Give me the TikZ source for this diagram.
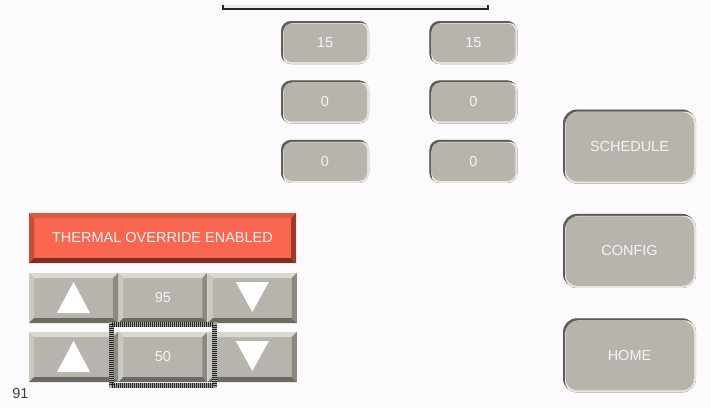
\documentclass[tikz,border=0pt]{standalone}
\usepackage{fontspec}
\setmainfont{Liberation Sans}
\usetikzlibrary{positioning}

\definecolor{panelbg}{RGB}{253,250,253}
\definecolor{btnface}{RGB}{183,180,174}
\definecolor{btntop}{RGB}{217,217,207}
\definecolor{btnleft}{RGB}{201,201,191}
\definecolor{btnbottom}{RGB}{107,106,99}
\definecolor{btnright}{RGB}{138,137,130}
\definecolor{redface}{RGB}{251,102,81}
\definecolor{redtop}{RGB}{220,90,66}
\definecolor{redleft}{RGB}{194,78,58}
\definecolor{redbottom}{RGB}{124,47,32}
\definecolor{redright}{RGB}{156,58,40}
\definecolor{rnddark}{RGB}{94,94,88}
\definecolor{rndlight}{RGB}{230,230,220}
\definecolor{btntext}{RGB}{244,244,244}
\definecolor{labeltext}{RGB}{64,64,64}

\begin{document}
\begin{tikzpicture}[
        x=1pt, y=-1pt,
        font=\fontsize{14.5}{17}\selectfont,
        bevel/.style n args={4}{path picture={
            \path (path picture bounding box.north west) coordinate (bnw)
                  (path picture bounding box.north east) coordinate (bne)
                  (path picture bounding box.south west) coordinate (bsw)
                  (path picture bounding box.south east) coordinate (bse);
            \fill[#1] (bnw) -- (bne) -- ([xshift=-5pt,yshift=-5pt]bne) -- ([xshift=5pt,yshift=-5pt]bnw) -- cycle;
            \fill[#2] (bnw) -- (bsw) -- ([xshift=5pt,yshift=5pt]bsw) -- ([xshift=5pt,yshift=-5pt]bnw) -- cycle;
            \fill[#3] (bsw) -- (bse) -- ([xshift=-5pt,yshift=5pt]bse) -- ([xshift=5pt,yshift=5pt]bsw) -- cycle;
            \fill[#4] (bne) -- (bse) -- ([xshift=-5pt,yshift=5pt]bse) -- ([xshift=-5pt,yshift=-5pt]bne) -- cycle;
        }},
        graybtn/.style={rectangle, fill=btnface, inner sep=0pt, minimum width=89pt, minimum height=50pt,
            text=btntext, bevel={btntop}{btnleft}{btnbottom}{btnright}},
        redbtn/.style={rectangle, fill=redface, inner sep=0pt, minimum width=267pt, minimum height=50pt,
            text=btntext, bevel={redtop}{redleft}{redbottom}{redright}},
        rndbtn/.style n args={2}{rectangle, rounded corners=#1, fill=btnface, inner sep=0pt, text=btntext,
            path picture={
            \fill[rnddark] (path picture bounding box.north west) rectangle (path picture bounding box.south east);
            \fill[rndlight, rounded corners=#1] ([xshift=2pt,yshift=-2pt]path picture bounding box.north west)
                rectangle ([xshift=2pt,yshift=-2pt]path picture bounding box.south east);
            \fill[btnface, rounded corners=#2] ([xshift=2.5pt,yshift=-2.5pt]path picture bounding box.north west)
                rectangle ([xshift=-2pt,yshift=2pt]path picture bounding box.south east);
        }},
        smallbtn/.style={rndbtn={10pt}{8pt}, minimum width=88pt, minimum height=43pt},
        bigbtn/.style={rndbtn={14pt}{12pt}, minimum width=133pt, minimum height=74pt},
        panelbar/.style={rectangle, fill=black!8, inner sep=0pt, minimum width=265pt, minimum height=4pt},
        arrowtri/.style={fill=white},
        selframe/.style={line width=5pt}
    ]
        \fill[panelbg] (0,0) rectangle (711,407);
        \useasboundingbox (0,0) rectangle (711,407);

        % Top panel edge
        \node[panelbar] (panel) at (355.5,7) {};
        \draw[line width=1.5pt, black!85] (panel.north west) |- (panel.south east) -- (panel.north east);

        % Set point grid
        \node[smallbtn] (sa1) at (325,42.5) {15};
        \node[smallbtn, below=16pt of sa1] (sa2) {0};
        \node[smallbtn, below=16pt of sa2] (sa3) {0};
        \node[smallbtn, right=60pt of sa1] (sb1) {15};
        \node[smallbtn, below=16pt of sb1] (sb2) {0};
        \node[smallbtn, below=16pt of sb2] (sb3) {0};

        % Menu buttons
        \node[bigbtn] (sched) at (629.5,146.5) {SCHEDULE};
        \node[bigbtn, below=30pt of sched] (config) {CONFIG};
        \node[bigbtn, below=30pt of config] (home) {HOME};

        % Thermal override
        \node[redbtn] (override) at (162.5,238) {THERMAL OVERRIDE ENABLED};

        \node[graybtn] (up1) at (73.5,298) {};
        \node[graybtn, right=0pt of up1] (val1) {95};
        \node[graybtn, right=0pt of val1] (dn1) {};
        \node[graybtn] (up2) at (73.5,357) {};
        \node[graybtn, right=0pt of up2] (val2) {50};
        \node[graybtn, right=0pt of val2] (dn2) {};

        \foreach \b in {up1, up2}
            \fill[arrowtri] ([yshift=16pt]\b.center) -- ([xshift=-16.5pt,yshift=-15pt]\b.center)
                -- ([xshift=16.5pt,yshift=-15pt]\b.center) -- cycle;
        \foreach \b in {dn1, dn2}
            \fill[arrowtri] ([yshift=-14pt]\b.center) -- ([xshift=-16.5pt,yshift=16pt]\b.center)
                -- ([xshift=16.5pt,yshift=16pt]\b.center) -- cycle;

        % Selection frame
        \draw[selframe, black!35] ([xshift=-6.5pt,yshift=7.5pt]val2.north west) rectangle ([xshift=6.5pt,yshift=-3.5pt]val2.south east);
        \draw[selframe, black!85, dash pattern=on 1pt off 1pt] ([xshift=-6.5pt,yshift=7.5pt]val2.north west) rectangle ([xshift=6.5pt,yshift=-3.5pt]val2.south east);

        \node[text=labeltext, anchor=center] (count) at (20.5,393) {91};
    \end{tikzpicture}
\end{document}
